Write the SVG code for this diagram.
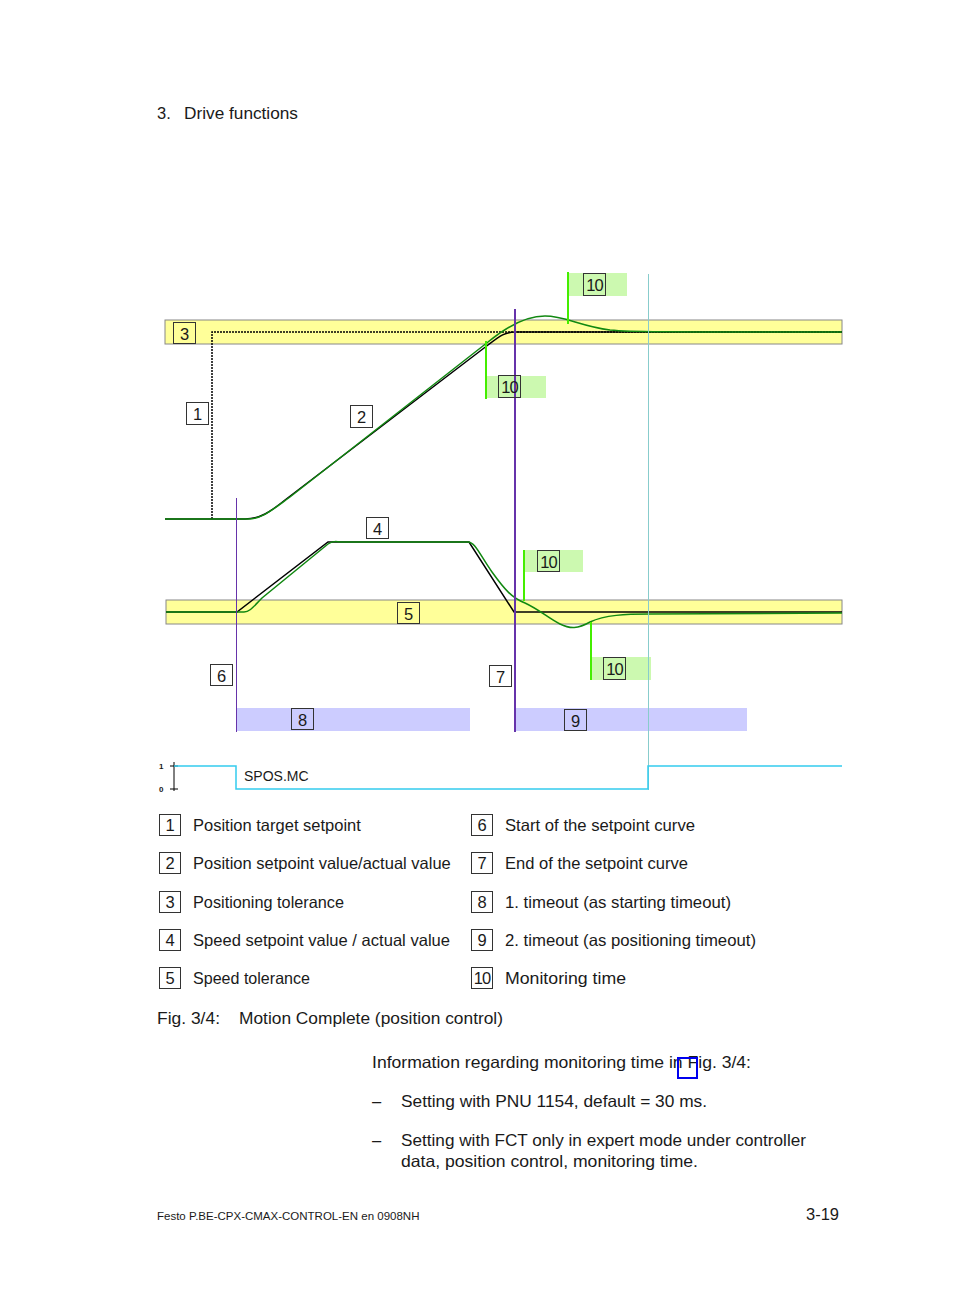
<svg xmlns="http://www.w3.org/2000/svg" width="954" height="1306" viewBox="0 0 954 1306">
<style>
text{font-family:"Liberation Sans",Arial,sans-serif;fill:#1a1a1a}
.t{font-size:16.5px}
.n{font-size:16.5px;text-anchor:middle}
.box{fill:none;stroke:#333;stroke-width:1}
.tol{fill:#ffff99;stroke:#888;stroke-width:1}
.mon{fill:#ccf9b0}
.mk{stroke:#44ee00;stroke-width:2}
.to{fill:#ccccff}
.blk{fill:none;stroke:#000;stroke-width:1.5}
.grn{fill:none;stroke:#118811;stroke-width:1.5}
</style>
<rect width="954" height="1306" fill="#fff"/>
<text class="t" x="157" y="119">3.</text>
<text class="t" x="184" y="119" textLength="114" lengthAdjust="spacingAndGlyphs">Drive functions</text>

<g id="bands">
<rect class="tol" x="165" y="320" width="677" height="24"/>
<rect class="tol" x="166" y="600" width="676" height="24"/>
<rect class="to" x="237" y="708" width="233" height="23"/>
<rect class="to" x="516" y="708" width="231" height="23"/>
<rect class="mon" x="568" y="273" width="59" height="23"/>
<rect class="mon" x="486" y="376" width="60" height="22"/>
<rect class="mon" x="524" y="550" width="59" height="22"/>
<rect class="mon" x="591" y="657" width="60" height="23"/>
</g>

<g id="connectors">
<path d="M212,519 L212,332 L842,332" fill="none" stroke="#000" stroke-width="1.5" stroke-dasharray="2,1"/>
<path class="blk" d="M165,519 L245,519 C260,519 270,512 285,500 L488,345 C500,336 505,332 515,332 L842,332"/>
<path class="grn" d="M165,519 L248,519 C262,519 272,510 290,497 L488,342 C505,328 525,316 545,316 C565,316 580,326 610,330 C630,332 650,332 842,332"/>
<path class="blk" d="M166,612 L237,612 L328,542 L469,542 L514,612 L842,612"/>
<path class="grn" d="M166,612 L244,612 C250,612 254,606 262,598 L328,544 C332,541 336,541 340,542 L468,542 C475,542 480,555 492,572 C505,590 512,598 525,603 C540,610 548,618 560,624 C570,629 578,629 590,622 C605,615 625,614 650,614 L842,613"/>
<line x1="236.5" y1="498" x2="236.5" y2="732" stroke="#6633aa" stroke-width="1"/>
<line x1="515" y1="309" x2="515" y2="732" stroke="#6633aa" stroke-width="2"/>
<line x1="648.5" y1="274" x2="648.5" y2="790" stroke="#88cccc" stroke-width="1"/>
<line class="mk" x1="568" y1="272" x2="568" y2="324"/>
<line class="mk" x1="486" y1="341" x2="486" y2="399"/>
<line class="mk" x1="524" y1="550" x2="524" y2="601"/>
<line class="mk" x1="591" y1="622" x2="591" y2="680"/>
<line x1="174" y1="762" x2="174" y2="791" stroke="#000" stroke-width="1"/>
<line x1="170" y1="766" x2="178" y2="766" stroke="#000" stroke-width="1"/>
<line x1="170" y1="789" x2="178" y2="789" stroke="#000" stroke-width="1"/>
<path d="M174,766 L236,766 L236,789 L648,789 L648,766 L842,766" fill="none" stroke="#33ccee" stroke-width="1.5"/>
</g>

<g id="n1"><rect class="box" x="186.5" y="402.5" width="22" height="22"/><text class="n" x="197.5" y="420">1</text></g>
<g id="n2"><rect class="box" x="350.5" y="405.5" width="22" height="22"/><text class="n" x="361.5" y="423">2</text></g>
<g id="n3"><rect class="box" x="173.5" y="322.5" width="22" height="21"/><text class="n" x="184.5" y="340">3</text></g>
<g id="n4"><rect class="box" x="366.5" y="517.5" width="22" height="21"/><text class="n" x="377.5" y="535">4</text></g>
<g id="n5"><rect class="box" x="397.5" y="602.5" width="22" height="21"/><text class="n" x="408.5" y="620">5</text></g>
<g id="n6"><rect class="box" x="210.5" y="664.5" width="22" height="21"/><text class="n" x="221.5" y="682">6</text></g>
<g id="n7"><rect class="box" x="489.5" y="665.5" width="22" height="21"/><text class="n" x="500.5" y="683">7</text></g>
<g id="n8"><rect class="box" x="291.5" y="708.5" width="22" height="21"/><text class="n" x="302.5" y="726">8</text></g>
<g id="n9"><rect class="box" x="564.5" y="709.5" width="22" height="21"/><text class="n" x="575.5" y="727">9</text></g>
<g id="n10a"><rect class="box" x="583.5" y="273.5" width="22" height="22"/><text class="n" x="594.5" y="291" letter-spacing="-1">10</text></g>
<g id="n10b"><rect class="box" x="498.5" y="375.5" width="22" height="22"/><text class="n" x="509.5" y="393" letter-spacing="-1">10</text></g>
<g id="n10c"><rect class="box" x="537.5" y="550.5" width="22" height="21"/><text class="n" x="548.5" y="568" letter-spacing="-1">10</text></g>
<g id="n10d"><rect class="box" x="603.5" y="657.5" width="22" height="22"/><text class="n" x="614.5" y="675" letter-spacing="-1">10</text></g>

<g id="signal">
<text x="159" y="769" style="font-size:8px;font-weight:bold">1</text>
<text x="159" y="792" style="font-size:8px;font-weight:bold">0</text>
<text x="244" y="781" style="font-size:14px">SPOS.MC</text>
</g>

<g id="legend">
<rect class="box" x="159.5" y="814.5" width="21" height="21"/><text class="n" x="170" y="831">1</text><text class="t" x="193" y="831">Position target setpoint</text>
<rect class="box" x="159.5" y="852.5" width="21" height="21"/><text class="n" x="170" y="869">2</text><text class="t" x="193" y="869">Position setpoint value/actual value</text>
<rect class="box" x="159.5" y="891.5" width="21" height="21"/><text class="n" x="170" y="908">3</text><text class="t" x="193" y="908" textLength="151" lengthAdjust="spacingAndGlyphs">Positioning tolerance</text>
<rect class="box" x="159.5" y="929.5" width="21" height="21"/><text class="n" x="170" y="946">4</text><text class="t" x="193" y="946" textLength="257" lengthAdjust="spacingAndGlyphs">Speed setpoint value / actual value</text>
<rect class="box" x="159.5" y="967.5" width="21" height="21"/><text class="n" x="170" y="984">5</text><text class="t" x="193" y="984" textLength="117" lengthAdjust="spacingAndGlyphs">Speed tolerance</text>
<rect class="box" x="471.5" y="814.5" width="21" height="21"/><text class="n" x="482" y="831">6</text><text class="t" x="505" y="831" textLength="190" lengthAdjust="spacingAndGlyphs">Start of the setpoint curve</text>
<rect class="box" x="471.5" y="852.5" width="21" height="21"/><text class="n" x="482" y="869">7</text><text class="t" x="505" y="869" textLength="183" lengthAdjust="spacingAndGlyphs">End of the setpoint curve</text>
<rect class="box" x="471.5" y="891.5" width="21" height="21"/><text class="n" x="482" y="908">8</text><text class="t" x="505" y="908" textLength="226" lengthAdjust="spacingAndGlyphs">1. timeout (as starting timeout)</text>
<rect class="box" x="471.5" y="929.5" width="21" height="21"/><text class="n" x="482" y="946">9</text><text class="t" x="505" y="946" textLength="251" lengthAdjust="spacingAndGlyphs">2. timeout (as positioning timeout)</text>
<rect class="box" x="471.5" y="967.5" width="21" height="21"/><text class="n" x="482" y="984" letter-spacing="-1">10</text><text class="t" x="505" y="984" textLength="121" lengthAdjust="spacingAndGlyphs">Monitoring time</text>
</g>

<text class="t" x="157" y="1024" textLength="63" lengthAdjust="spacingAndGlyphs">Fig. 3/4:</text>
<text class="t" x="239" y="1024" textLength="264" lengthAdjust="spacingAndGlyphs">Motion Complete (position control)</text>

<text class="t" x="372" y="1068" textLength="379" lengthAdjust="spacingAndGlyphs">Information regarding monitoring time in Fig. 3/4:</text>
<rect x="678" y="1058" width="19" height="20" fill="none" stroke="#0000ee" stroke-width="2"/>
<text class="t" x="372" y="1107">–</text>
<text class="t" x="401" y="1107" textLength="306" lengthAdjust="spacingAndGlyphs">Setting with PNU 1154, default = 30 ms.</text>
<text class="t" x="372" y="1146">–</text>
<text class="t" x="401" y="1146" textLength="405" lengthAdjust="spacingAndGlyphs">Setting with FCT only in expert mode under controller</text>
<text class="t" x="401" y="1167" textLength="297" lengthAdjust="spacingAndGlyphs">data, position control, monitoring time.</text>

<text x="157" y="1220" style="font-size:11.5px">Festo P.BE-CPX-CMAX-CONTROL-EN   en 0908NH</text>
<text x="839" y="1220" style="font-size:16.5px;text-anchor:end">3-19</text>
</svg>
